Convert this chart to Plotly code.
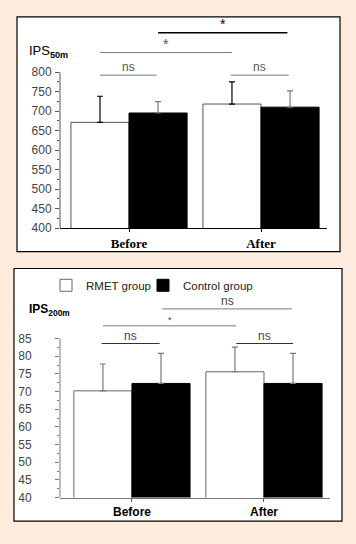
import plotly.graph_objects as go

W, H = 356, 544
categories = ["Before", "After"]

# Top panel: IPS 50m
ips50_rmet = [671, 718]
ips50_rmet_sd = [67, 57]
ips50_ctrl = [695, 710]
ips50_ctrl_sd = [29, 42]
ips50_ticks = [400, 450, 500, 550, 600, 650, 700, 750, 800]

# Bottom panel: IPS 200m
ips200_rmet = [70.2, 75.6]
ips200_rmet_sd = [7.6, 7.0]
ips200_ctrl = [72.3, 72.3]
ips200_ctrl_sd = [8.5, 8.5]
ips200_ticks = [40, 45, 50, 55, 60, 65, 70, 75, 80, 85]

series_names = ["RMET group", "Control group"]

# significance brackets: (x0, x1, y, label)
sig50 = [(0.22, 1.20, 901, "*"), (-0.22, 0.78, 850, "*"),
         (-0.22, 0.21, 792, "ns"), (0.77, 1.21, 792, "ns")]
sig200 = [(0.23, 1.21, 93.4, "ns"), (-0.22, 0.79, 88.6, "*"),
          (-0.23, 0.21, 83.6, "ns"), (0.79, 1.22, 83.6, "ns")]

def px(v):
    return v / W

def py(v):
    return 1 - v / H

BG = "#FDEBDD"
GRAY = "#7a7a7a"

fig = go.Figure()

def add_bars(xa, ya, vals_w, sd_w, vals_b, sd_b, errw_col, errb_col, outline, legend):
    fig.add_trace(go.Bar(
        x=categories, y=vals_w, name=series_names[0], xaxis=xa, yaxis=ya,
        marker=dict(color="white", line=dict(color=outline, width=1)),
        error_y=dict(type="data", symmetric=False, array=sd_w, arrayminus=[0, 0],
                     color=errw_col, thickness=1.2, width=3),
        showlegend=legend, legend="legend", hoverinfo="skip"))
    fig.add_trace(go.Bar(
        x=categories, y=vals_b, name=series_names[1], xaxis=xa, yaxis=ya,
        marker=dict(color="black", line=dict(color="black", width=1)),
        error_y=dict(type="data", symmetric=False, array=sd_b, arrayminus=[0, 0],
                     color=errb_col, thickness=1.2, width=3),
        showlegend=legend, legend="legend2", hoverinfo="skip"))

add_bars("x", "y", ips50_rmet, ips50_rmet_sd, ips50_ctrl, ips50_ctrl_sd,
         "black", GRAY, "#555", False)
add_bars("x2", "y2", ips200_rmet, ips200_rmet_sd, ips200_ctrl, ips200_ctrl_sd,
         GRAY, GRAY, "#666", True)

shapes = [
    dict(type="rect", xref="paper", yref="paper", x0=px(17), x1=px(340), y0=py(255), y1=py(17),
         fillcolor="white", line=dict(color="black", width=1.2), layer="below"),
    dict(type="rect", xref="paper", yref="paper", x0=px(14), x1=px(342), y0=py(528), y1=py(272),
         fillcolor="white", line=dict(color="black", width=1.2), layer="below"),
    # y axis lines
    dict(type="line", xref="x domain", yref="y", x0=0, x1=0, y0=400, y1=800,
         line=dict(color="#555", width=1)),
    dict(type="line", xref="x2 domain", yref="y2", x0=0, x1=0, y0=40, y1=85,
         line=dict(color="#777", width=1)),
]
annotations = []

for i, (x0, x1, yv, lab) in enumerate(sig50):
    thick = i == 0
    shapes.append(dict(type="line", xref="x", yref="y", x0=x0, x1=x1, y0=yv, y1=yv,
                       line=dict(color="black" if thick else GRAY, width=1.5 if thick else 1)))
    annotations.append(dict(xref="x", yref="y", x=(x0 + x1) / 2, y=yv, yanchor="bottom",
                            text=lab, showarrow=False, yshift=-1,
                            font=dict(family="Liberation Sans, Arial",
                                      size=14 if lab == "*" else 12,
                                      color="black" if thick else "#555")))
for i, (x0, x1, yv, lab) in enumerate(sig200):
    col = "#333" if i >= 2 else GRAY
    shapes.append(dict(type="line", xref="x2", yref="y2", x0=x0, x1=x1, y0=yv, y1=yv,
                       line=dict(color=col, width=1)))
    annotations.append(dict(xref="x2", yref="y2", x=(x0 + x1) / 2, y=yv, yanchor="bottom",
                            text=lab, showarrow=False, yshift=-1,
                            font=dict(family="Liberation Sans, Arial",
                                      size=12 if lab == "ns" else 9, color="#444")))

annotations.append(dict(xref="paper", yref="paper", x=px(27), y=py(52), xanchor="left",
                        yanchor="middle", showarrow=False,
                        text="IPS<sub><b>50m</b></sub>",
                        font=dict(family="Liberation Sans, Arial", size=13, color="black")))
annotations.append(dict(xref="paper", yref="paper", x=px(27), y=py(314), xanchor="left",
                        yanchor="middle", showarrow=False,
                        text="<b>IPS<sub>200m</sub></b>",
                        font=dict(family="Liberation Sans, Arial", size=12, color="black")))

tickfont = dict(family="Liberation Sans, Arial", size=12, color="#444")
legfont = dict(family="Liberation Sans, Arial", size=11.5, color="#222")

fig.update_layout(
    width=W, height=H, margin=dict(l=0, r=0, t=0, b=0),
    paper_bgcolor=BG, plot_bgcolor="rgba(0,0,0,0)",
    barmode="group", bargap=0.12, bargroupgap=0,
    shapes=shapes, annotations=annotations,
    legend=dict(orientation="h", x=px(46), y=py(289), xanchor="left", yanchor="middle",
                bgcolor="rgba(0,0,0,0)", font=legfont, itemclick=False),
    legend2=dict(orientation="h", x=px(143), y=py(289), xanchor="left", yanchor="middle",
                 bgcolor="rgba(0,0,0,0)", font=legfont, itemclick=False),
    xaxis=dict(domain=[px(60), px(327)], range=[-0.523, 1.5], anchor="y",
               showline=True, linecolor="black", linewidth=1, ticks="outside", ticklen=3,
               tickcolor="black", showgrid=False, zeroline=False,
               tickfont=dict(family="Liberation Serif, Times New Roman", size=13, color="black",
                             weight="bold")),
    yaxis=dict(domain=[py(231), py(20)], range=[400, 934.2], anchor="x",
               showline=False, showgrid=False, zeroline=False,
               tickvals=ips50_ticks, ticks="outside", ticklen=4, tickcolor="#555",
               ticklabelstandoff=1, tickfont=tickfont,
               minor=dict(tickvals=[v + 25 for v in ips50_ticks[:-1]], ticks="outside",
                          ticklen=2, tickcolor="#555", showgrid=False)),
    xaxis2=dict(domain=[px(60), px(330)], range=[-0.545, 1.5], anchor="y2",
                showline=True, linecolor="#777", linewidth=1, ticks="outside", ticklen=3,
                tickcolor="#555", showgrid=False, zeroline=False,
                tickfont=dict(family="Liberation Sans, Arial", size=12, color="black",
                              weight="bold")),
    yaxis2=dict(domain=[py(504), py(280)], range=[40, 102.6], anchor="x2",
                showline=False, showgrid=False, zeroline=False,
                tickvals=ips200_ticks, ticks="outside", ticklen=4, tickcolor="#777",
                ticklabelstandoff=21, tickfont=tickfont,
                minor=dict(tickvals=[v + 2.5 for v in ips200_ticks[:-1]], ticks="outside",
                           ticklen=2, tickcolor="#777", showgrid=False)),
)

fig.write_html("out.html", config={"displayModeBar": False},
               post_script="document.body.style.margin='0';document.body.style.overflow='hidden';")
